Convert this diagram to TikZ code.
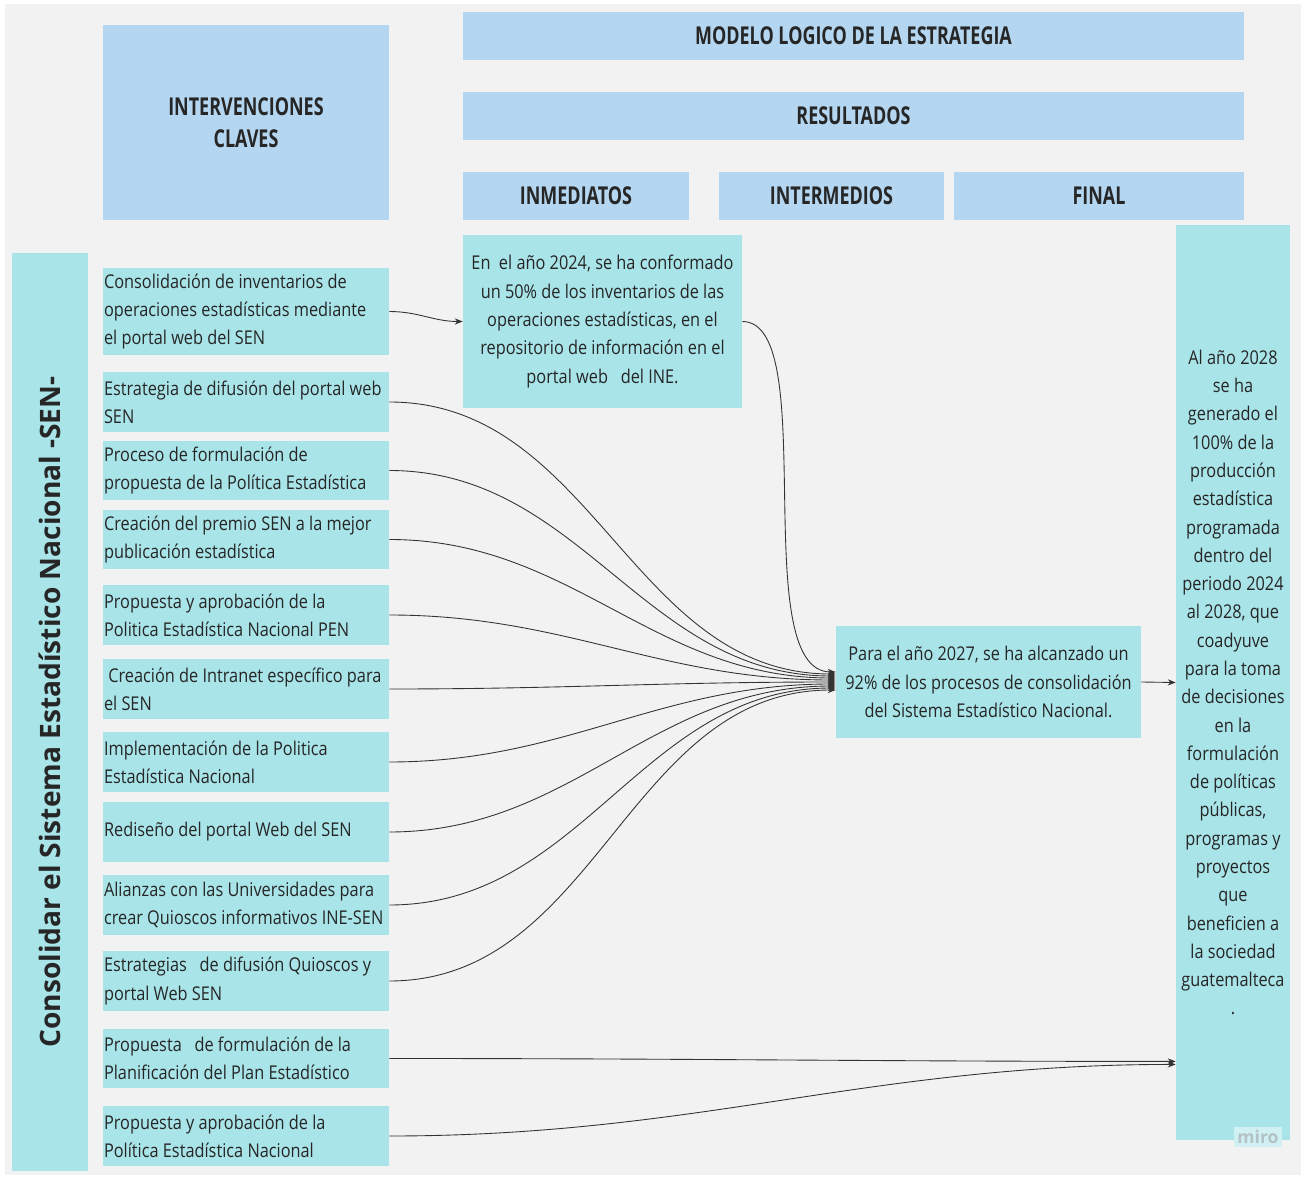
\documentclass[tikz,border=0pt]{standalone}
\usepackage{fontspec}
\setmainfont{Open Sans}[FakeStretch=0.86]
\newfontfamily\headfont{Open Sans}[FakeStretch=0.73]
\newfontfamily\sidefont{Open Sans}
\usepackage{xcolor}
\usetikzlibrary{arrows.meta}
\definecolor{bggray}{HTML}{F2F2F2}
\definecolor{headblue}{HTML}{B4D6F0}
\definecolor{boxcyan}{HTML}{A9E4E9}
\definecolor{txtdark}{HTML}{262626}
\definecolor{linegray}{HTML}{333333}
\definecolor{mirogray}{HTML}{B3C2C4}

\begin{document}
\begin{tikzpicture}[x=0.02cm,y=-0.02cm,
		headbox/.style={fill=headblue,text=txtdark,font=\headfont\bfseries\fontsize{14}{18}\selectfont,inner sep=0pt,align=center,minimum height=0.96cm},
		itembox/.style={fill=boxcyan,text=txtdark,font=\fontsize{10.8}{16}\selectfont,minimum width=5.72cm,minimum height=1.2cm,text width=5.68cm,inner xsep=0.02cm,inner ysep=0pt,align=flush left},
		resbox/.style={fill=boxcyan,text=txtdark,font=\fontsize{10.8}{16.1}\selectfont,inner sep=0pt,align=center},
		link/.style={draw=linegray,line width=0.5pt,-{Stealth[length=4.5pt,width=3.5pt]}}]
			\fill[white] (0,0) rectangle (1306,1179);
			\fill[bggray] (5,4) rectangle (1301,1175);
			
			\node[headbox,minimum width=5.72cm,minimum height=3.9cm] (ic) at (246,122.5) {INTERVENCIONES\\CLAVES};
			\node[headbox,minimum width=15.62cm] (modelo) at (853.5,36) {MODELO LOGICO DE LA ESTRATEGIA};
			\node[headbox,minimum width=15.62cm] (res) at (853.5,116) {RESULTADOS};
			\node[headbox,minimum width=4.52cm] (hinm) at (576,196) {INMEDIATOS};
			\node[headbox,minimum width=4.5cm] (hint) at (831.5,196) {INTERMEDIOS};
			\node[headbox,minimum width=5.8cm] (hfin) at (1099,196) {FINAL};
			
			\node[fill=boxcyan,text=txtdark,rotate=90,minimum width=18.36cm,minimum height=1.52cm,inner sep=0pt,font=\sidefont\bfseries\fontsize{16}{19}\selectfont] (side) at (50,712) {Consolidar el Sistema Estadístico Nacional -SEN-};
			
			\node[itembox,minimum height=1.74cm] (i1) at (246,311.5) {Consolidación de inventarios de\\operaciones estadísticas mediante\\el portal web del SEN};
			\node[itembox] (i2) at (246,402) {Estrategia de difusión del portal web\\SEN};
			\node[itembox] (i3) at (246,470.5) {Proceso de formulación de\\propuesta de la Política Estadística};
			\node[itembox] (i4) at (246,539.5) {Creación del premio SEN a la mejor\\publicación estadística};
			\node[itembox] (i5) at (246,615) {Propuesta y aprobación de la\\Politica Estadística Nacional PEN};
			\node[itembox] (i6) at (246,689) {\ Creación de Intranet específico para\\el SEN};
			\node[itembox] (i7) at (246,762) {Implementación de la Politica\\Estadística Nacional};
			\node[itembox] (i8) at (246,832) {Rediseño del portal Web del SEN};
			\node[itembox] (i9) at (246,905) {Alianzas con las Universidades para\\crear Quioscos informativos INE-SEN};
			\node[itembox] (i10) at (246,981) {Estrategias\ \ \ de difusión Quioscos y\\portal Web SEN};
			\node[itembox] (i11) at (246,1058.5) {Propuesta\ \ \ de formulación de la\\Planificación del Plan Estadístico};
			\node[itembox] (i12) at (246,1136) {Propuesta y aprobación de la\\Política Estadística Nacional};
			
			\node[resbox,minimum width=5.58cm,minimum height=3.46cm] (imm) at (602.5,321.5) {En\ \ el año 2024, se ha conformado\\un 50\% de los inventarios de las\\operaciones estadísticas, en el\\repositorio de información en el\\portal web\ \ \ del INE.};
			\node[resbox,minimum width=6.1cm,minimum height=2.24cm] (mid) at (988.5,682) {Para el año 2027, se ha alcanzado un\\92\% de los procesos de consolidación\\del Sistema Estadístico Nacional.};
			\node[resbox,minimum width=2.28cm,minimum height=18.3cm] (fin) at (1233,682.5) {Al año 2028\\se ha\\generado el\\100\% de la\\producción\\estadística\\programada\\dentro del\\periodo 2024\\al 2028, que\\coadyuve\\para la toma\\de decisiones\\en la\\formulación\\de políticas\\públicas,\\programas y\\proyectos\\que\\beneficien a\\la sociedad\\guatemalteca\\.};
			\node[fill=boxcyan!55!white,text=mirogray,inner sep=2pt,font=\sidefont\bfseries\fontsize{10}{12}\selectfont] (miro) at (1258,1137) {miro};
			
			\draw[link] (i1.east) to[out=0,in=180] (imm.west);
			\draw[link] (imm.east) .. controls +(80,0) and +(-90,0) .. ([yshift=0.2cm]mid.west);
			\draw[link] (i2.east) to[out=0,in=180] ([yshift=0.16cm]mid.west);
			\draw[link] (i3.east) to[out=0,in=180] ([yshift=0.12cm]mid.west);
			\draw[link] (i4.east) to[out=0,in=180] ([yshift=0.08cm]mid.west);
			\draw[link] (i5.east) to[out=0,in=180] ([yshift=0.04cm]mid.west);
			\draw[link] (i6.east) to[out=0,in=180] (mid.west);
			\draw[link] (i7.east) to[out=0,in=180] ([yshift=-0.04cm]mid.west);
			\draw[link] (i8.east) to[out=0,in=180] ([yshift=-0.08cm]mid.west);
			\draw[link] (i9.east) to[out=0,in=180] ([yshift=-0.12cm]mid.west);
			\draw[link] (i10.east) to[out=0,in=180] ([yshift=-0.16cm]mid.west);
			\draw[link] (mid.east) -- (fin.west);
			\draw[link] (i11.east) to[out=0,in=180] ([yshift=-7.58cm]fin.west);
			\draw[link] (i12.east) to[out=0,in=180] ([yshift=-7.64cm]fin.west);
		\end{tikzpicture}
\end{document}
